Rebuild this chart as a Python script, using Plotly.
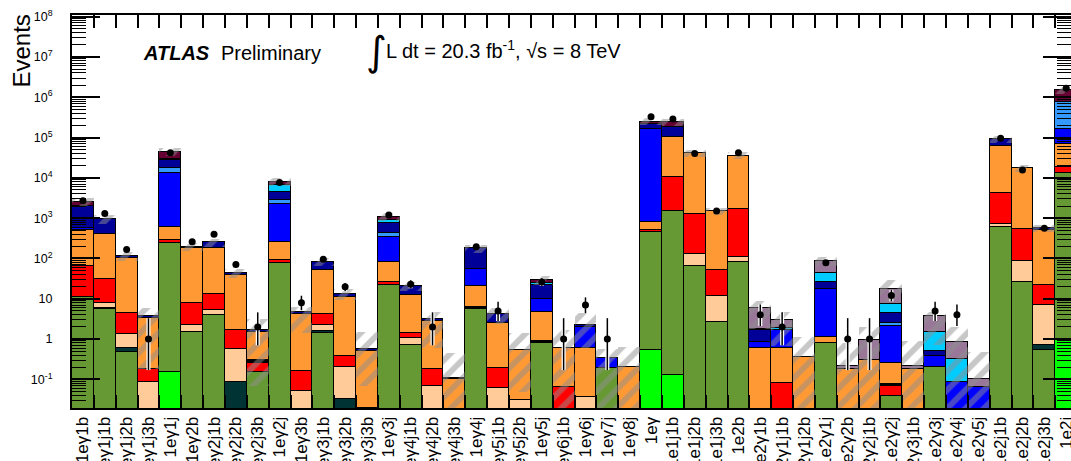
import plotly.graph_objects as go

labels = ["1eγ1b", "1eγ1j1b", "1eγ1j2b", "1eγ1j3b", "1eγ1j", "1eγ2b", "1eγ2j1b", "1eγ2j2b",
          "1eγ2j3b", "1eγ2j", "1eγ3b", "1eγ3j1b", "1eγ3j2b", "1eγ3j3b", "1eγ3j", "1eγ4j1b",
          "1eγ4j2b", "1eγ4j3b", "1eγ4j", "1eγ5j1b", "1eγ5j2b", "1eγ5j", "1eγ6j1b", "1eγ6j",
          "1eγ7j", "1eγ8j", "1eγ", "1e1j1b", "1e1j2b", "1e1j3b", "1e2b", "1e2γ1b",
          "1e2γ1j1b", "1e2γ1j2b", "1e2γ1j", "1e2γ2b", "1e2γ2j1b", "1e2γ2j", "1e2γ3j1b", "1e2γ3j",
          "1e2γ4j", "1e2γ5j", "1e2j1b", "1e2j2b", "1e2j3b", "1e2j"]

# background components (stack order bottom -> top), values per category
bright_green = [0, 0, 0, 0, 0.15, 0, 0, 0, 0, 0, 0, 0, 0, 0, 0, 0, 0, 0, 0, 0, 0, 0, 0, 0,
                0, 0, 0.53, 0.13, 0, 0, 0, 0, 0, 0, 0, 0, 0, 0, 0, 0, 0, 0, 0, 0, 0, 1.0]
olive = [11, 5.5, 0.49, 0, 236, 1.5, 4, 0, 0.155, 75, 0, 1.43, 0, 0, 22, 0.71, 0, 0, 5.5, 0, 0, 0.78,
         0, 0, 0.19, 0, 460, 1520, 65, 2.7, 83, 0, 0, 0, 0.78, 0, 0, 0.039, 0, 0.2, 0, 0, 615, 26, 0.53, 13000]
teal = [0, 0.3, 0.1, 0, 0, 0, 0, 0.085, 0, 0, 0, 0.15, 0.032, 0, 0, 0, 0, 0, 0, 0, 0, 0, 0, 0,
        0, 0, 0, 0, 0, 0, 0, 0, 0, 0, 0, 0, 0, 0, 0, 0, 0, 0, 0, 0, 0.17, 0]
peach = [0, 2.2, 0.74, 0.085, 0, 0.7, 1.2, 0.475, 0, 0, 0.052, 0.62, 0.168, 0.02, 0, 0.33, 0.07, 0, 0, 0.06,
         0.03, 0, 0, 0.037, 0, 0, 0, 0, 64, 9, 27, 0, 0, 0, 0, 0, 0, 0, 0, 0, 0, 0, 100, 61, 6.3, 0]
red = [54, 23, 3.0, 0.095, 54, 5.8, 7.8, 1.11, 0.095, 16, 0.108, 2.0, 0.18, 0, 4, 0.39, 0.11, 0, 0, 0.13,
       0, 0, 0.066, 0, 0, 0, 40, 8780, 1110, 40, 1590, 0, 0.083, 0, 0, 0, 0, 0.031, 0, 0, 0, 0, 3435, 438, 15, 6000]
black = [0, 0, 0, 0, 0, 0, 0, 0, 0.05, 0, 0, 0, 0, 0, 0, 0, 0, 0, 0.8, 0, 0, 0.12, 0, 0,
         0, 0, 0, 0, 0, 0, 0, 0, 0, 0, 0, 0, 0, 0.006, 0, 0, 0, 0, 0, 0, 0, 0]
orange = [440, 369, 95.7, 3.1, 325, 170, 165, 37.3, 1.2, 169, 4.04, 47.8, 10.8, 0.5, 57, 10.9, 2.67, 0.105,
          14.7, 2.31, 0.52, 3.9, 0.52, 0.55, 0, 0.2, 310, 94700, 39500, 1470, 33300, 0.59, 0.51, 0.36, 0.36,
          0.18, 0.31, 0.184, 0.18, 0, 0, 0, 57350, 16775, 483, 50000]
blue = [60, 0, 0, 0, 12800, 0, 0, 0, 0, 1970, 0, 0, 0, 0, 262, 0, 0, 0, 33, 0, 0, 4.8, 0, 1.36,
        0.14, 0, 159000, 0, 0, 0, 0, 0.27, 1.08, 0, 15.9, 0, 0, 1.84, 0, 0.18, 0.087, 0.066, 0, 0, 0, 91000]
light_blue = [0, 0, 0, 0, 4400, 0, 0, 0, 0, 570, 0, 0, 0, 0, 75, 0, 0, 0, 0, 0, 0, 0.4, 0, 0,
              0, 0, 0, 0, 0, 0, 0, 0, 0, 0, 0, 0, 0, 0.35, 0, 0, 0, 0, 0, 0, 0, 620000]
navy = [1435, 580, 15, 0.4, 9700, 17, 72, 4, 0.17, 1750, 0.6, 31, 2, 0.05, 350, 8.7, 0.25, 0.005, 124, 1.7,
        0, 12, 0, 0.25, 0, 0, 60000, 80000, 300, 0, 600, 0.81, 0, 0, 9, 0, 0, 2.05, 0, 0.13, 0, 0,
        28500, 0, 55, 0]
cyan = [0, 0, 0, 0, 1500, 0, 0, 0, 0, 2050, 0, 0, 0, 0, 130, 0, 0, 0, 0, 0, 0, 3, 0, 0,
        0, 0, 0, 0, 0, 0, 0, 0.15, 0.2, 0, 17, 0, 0, 2.9, 0, 1.0, 0.24, 0, 0, 0, 0, 0]
mauve = [0, 0, 0, 0, 0, 0, 0, 0, 0, 0, 0, 0, 0, 0, 0, 0, 0, 0, 0, 0, 0, 0, 0, 0,
         0, 0, 0, 0, 0, 0, 0, 4.0, 1.1, 0, 44, 0.04, 0.64, 9.6, 0.04, 2.2, 0.53, 0.039, 0, 0, 0, 0]
maroon = [550, 0, 0, 0, 15600, 0, 0, 0, 0, 1400, 0, 0, 0, 0, 180, 0, 0, 0, 0, 0, 0, 4, 0, 0,
          0, 0, 30000, 60000, 0, 0, 0, 0, 0, 0, 0, 0, 0, 0, 0, 0, 0, 0, 0, 0, 0, 720000]

# total background uncertainty (up / down)
mc_err_up = [600, 250, 30, 2.2, 9000, 45, 60, 11, 1.4, 1800, 1.5, 18, 4, 0.9, 240, 5, 1.5, 0.34, 40, 1.8,
             0.85, 7, 1.1, 2.2, 0.25, 0.44, 50000, 50000, 8000, 300, 7000, 3, 1.8, 0.75, 22, 0.6, 1.0, 12,
             0.7, 1.0, 1.1, 0.38, 18000, 3500, 110, 300000]
mc_err_dn = [600, 250, 30, 3.5, 9000, 45, 60, 11, 1.6, 1800, 3.4, 18, 4, 0.5, 240, 5, 2.5, 0.11, 40, 1.8,
             0.5, 7, 0.58, 1.6, 0.32, 0.2, 50000, 50000, 8000, 300, 7000, 4, 2.3, 0.36, 22, 0.22, 0.95, 8.6,
             0.22, 3.0, 0.86, 0.105, 18000, 3500, 110, 300000]

# observed data
data = [2700, 1300, 167, 1, 42000, 260, 400, 71, 2, 7700, 8, 95, 20, None, 1200, 23, 2, None, 195, 5,
        None, 26, 1, 7, 1, None, 330000, 290000, 40000, 1500, 42000, 4, 2, None, 78, 1, 1, 12, None, 5,
        4, None, 96000, 15600, 560, 1660000]
data_err_up = [52, 36, 13, 2.3, 205, 16, 20, 8.5, 2.6, 88, 3.9, 10, 4.5, 0, 35, 5.8, 2.6, 0, 14, 3.4,
               0, 6.1, 2.3, 3.8, 2.3, 0, 575, 540, 200, 39, 205, 3.2, 2.6, 0, 9.9, 2.3, 2.3, 4.6, 0, 3.4,
               3.2, 0, 310, 125, 24, 1290]
data_err_dn = [52, 36, 13, 0.83, 205, 16, 20, 8.5, 1.3, 88, 2.8, 10, 4.5, 0, 35, 4.8, 1.3, 0, 14, 2.2,
               0, 5.1, 0.83, 2.6, 0.83, 0, 575, 540, 200, 39, 205, 1.9, 1.3, 0, 8.8, 0.83, 0.83, 3.4, 0, 2.2,
               1.9, 0, 310, 125, 24, 1290]

y_tickvals = [1e-1, 1, 10, 1e2, 1e3, 1e4, 1e5, 1e6, 1e7, 1e8]
y_ticktext = ["10<sup>-1</sup>", "1", "10", "10<sup>2</sup>", "10<sup>3</sup>", "10<sup>4</sup>",
              "10<sup>5</sup>", "10<sup>6</sup>", "10<sup>7</sup>", "10<sup>8</sup>"]

components = [
    ("bright green", "#00ff00", bright_green),
    ("olive", "#669933", olive),
    ("teal", "#003333", teal),
    ("peach", "#ffcc99", peach),
    ("red", "#ff0000", red),
    ("black", "#000000", black),
    ("orange", "#ff9933", orange),
    ("blue", "#0000ff", blue),
    ("light blue", "#3399ff", light_blue),
    ("navy", "#000099", navy),
    ("cyan", "#00ccff", cyan),
    ("mauve", "#997799", mauve),
    ("maroon", "#660033", maroon),
]

FONT = "Liberation Sans, Arial, Helvetica, sans-serif"
fig = go.Figure()

for name, color, vals in components:
    fig.add_trace(go.Bar(
        x=labels, y=[v if v else None for v in vals], width=1, name=name,
        marker=dict(color=color, line=dict(color="black", width=1.5)),
        showlegend=False, hoverinfo="skip"))

totals = [sum(c[2][i] for c in components) for i in range(len(labels))]
band_base = [max(t - d, 1e-3) for t, d in zip(totals, mc_err_dn)]
band_top = [t + u for t, u in zip(totals, mc_err_up)]
fig.add_trace(go.Bar(
    x=labels, y=[tp - b for tp, b in zip(band_top, band_base)], base=band_base, width=1,
    marker=dict(color="rgba(0,0,0,0)", line=dict(width=0),
                pattern=dict(shape="/", fgcolor="#8f8f8f", size=13, solidity=0.45, fillmode="overlay")),
    showlegend=False, hoverinfo="skip"))

# data points: white halo error bar, then black
fig.add_trace(go.Scatter(
    x=labels, y=data, mode="markers", marker=dict(size=1, color="rgba(0,0,0,0)"),
    error_y=dict(type="data", array=data_err_up, arrayminus=data_err_dn, color="white",
                 thickness=4, width=0),
    showlegend=False, hoverinfo="skip"))
fig.add_trace(go.Scatter(
    x=labels, y=data, mode="markers", marker=dict(size=7, color="black"),
    error_y=dict(type="data", array=data_err_up, arrayminus=data_err_dn, color="black",
                 thickness=1.5, width=0),
    showlegend=False, hoverinfo="skip"))

# dummy trace for the mirrored right axis
fig.add_trace(go.Scatter(x=[labels[0]], y=[1], yaxis="y2", mode="markers",
                         marker=dict(opacity=0), showlegend=False, hoverinfo="skip"))

minor_vals = [m * 10 ** k for k in range(-2, 8) for m in range(2, 10)]

yaxis_common = dict(
    type="log", range=[-1.71, 8.04], tickmode="array", tickvals=y_tickvals,
    ticks="inside", ticklen=28, tickwidth=1.5, tickcolor="black",
    showgrid=False, zeroline=False, automargin=False,
    minor=dict(tickmode="array", tickvals=minor_vals, ticks="inside", ticklen=14,
               tickwidth=1, tickcolor="black", showgrid=False),
)

fig.update_layout(
    width=1071, height=461,
    margin=dict(l=72, r=0, t=15, b=53, autoexpand=False),
    paper_bgcolor="white", plot_bgcolor="white",
    barmode="stack", bargap=0,
    font=dict(family=FONT, color="black"),
    xaxis=dict(type="category", range=[-0.5, 45.22], tickson="boundaries",
               ticks="inside", ticklen=13, tickwidth=1.5, tickcolor="black",
               showline=True, linewidth=2, linecolor="black", mirror="ticks", automargin=False,
               tickangle=-90, tickfont=dict(size=17, family=FONT), showgrid=False),
    yaxis=dict(**yaxis_common, ticktext=y_ticktext, showline=True, linewidth=2, linecolor="black",
               tickfont=dict(size=12.5, family=FONT), ticklabelstandoff=15),
    yaxis2=dict(**yaxis_common, overlaying="y", side="right", anchor="x",
                showticklabels=False, showline=False),
    annotations=[
        dict(text="Events", textangle=-90, x=(22 - 72) / 999, y=1.005, xref="paper", yref="paper",
             xanchor="center", yanchor="top", showarrow=False, font=dict(size=24, family=FONT)),
        dict(text="<b><i>ATLAS</i></b>", x=(141 - 72) / 999, y=(408 - 53) / 393, xref="paper",
             yref="paper", xanchor="left", yanchor="middle", showarrow=False,
             font=dict(size=20, family=FONT)),
        dict(text="Preliminary", x=(219 - 72) / 999, y=(408 - 53) / 393, xref="paper",
             yref="paper", xanchor="left", yanchor="middle", showarrow=False,
             font=dict(size=20, family=FONT)),
        dict(text="∫", x=(364 - 72) / 999, y=(408 - 51) / 393, xref="paper", yref="paper",
             xanchor="left", yanchor="middle", showarrow=False,
             font=dict(size=40, family="DejaVu Sans")),
        dict(text="L dt = 20.3 fb<sup>-1</sup>, √s = 8 TeV", x=(384 - 72) / 999, y=(408 - 50) / 393,
             xref="paper", yref="paper", xanchor="left", yanchor="middle", showarrow=False,
             font=dict(size=20, family=FONT)),
    ],
)

fig.write_html("out.html")
